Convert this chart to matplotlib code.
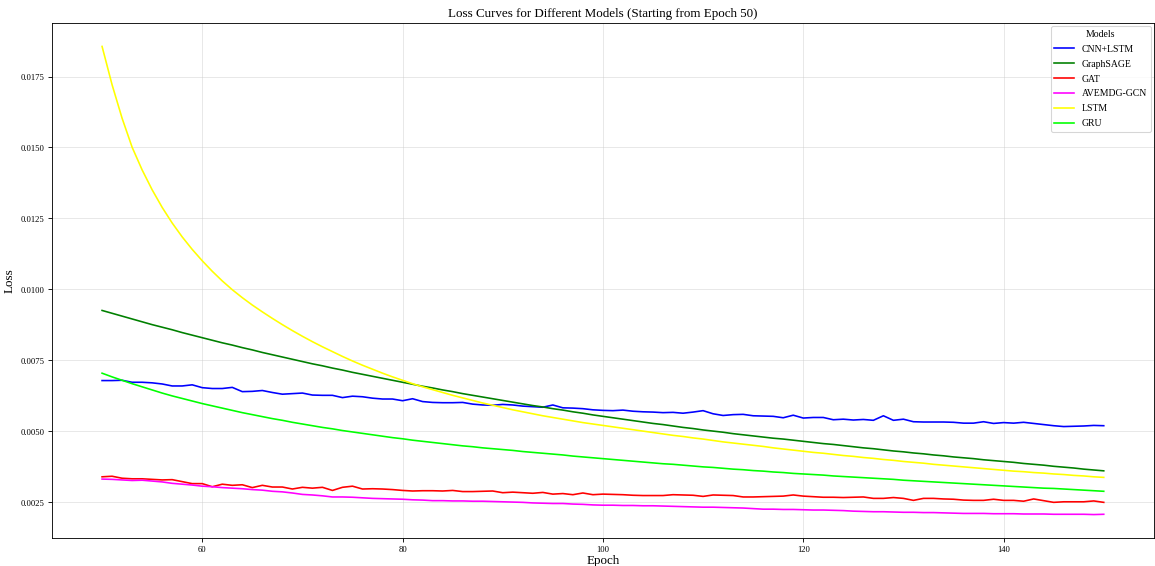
import matplotlib
matplotlib.use("Agg")
import matplotlib.pyplot as plt

plt.rcParams['font.family'] = ['Liberation Serif', 'DejaVu Serif']

# epochs 50..150
epochs = list(range(50, 151))

cnn_lstm = [
    0.00679, 0.00679, 0.00680, 0.00673, 0.00673, 0.00671, 0.00667, 0.00660, 0.00660, 0.00664,
    0.00654, 0.00651, 0.00651, 0.00655, 0.00640, 0.00641, 0.00644, 0.00637, 0.00631, 0.00633,
    0.00635, 0.00628, 0.00627, 0.00627, 0.00619, 0.00624, 0.00622, 0.00617, 0.00614, 0.00614,
    0.00608, 0.00615, 0.00605, 0.00602, 0.00601, 0.00601, 0.00602, 0.00596, 0.00593, 0.00592,
    0.00595, 0.00593, 0.00589, 0.00587, 0.00585, 0.00593, 0.00583, 0.00582, 0.00580, 0.00576,
    0.00574, 0.00573, 0.00575, 0.00571, 0.00569, 0.00568, 0.00566, 0.00567, 0.00564, 0.00568,
    0.00573, 0.00562, 0.00556, 0.00559, 0.00560, 0.00555, 0.00554, 0.00553, 0.00548, 0.00557,
    0.00547, 0.00549, 0.00549, 0.00541, 0.00543, 0.00540, 0.00542, 0.00539, 0.00555, 0.00539,
    0.00543, 0.00534, 0.00533, 0.00533, 0.00533, 0.00532, 0.00529, 0.00529, 0.00534, 0.00528,
    0.00531, 0.00529, 0.00532, 0.00528, 0.00524, 0.00520, 0.00517, 0.00518, 0.00519, 0.00521,
    0.00520,
]

graphsage = [
    0.00926, 0.00916, 0.00906, 0.00896, 0.00886, 0.00876, 0.00867, 0.00858, 0.00848, 0.00839,
    0.00830, 0.00821, 0.00812, 0.00804, 0.00795, 0.00787, 0.00778, 0.00770, 0.00762, 0.00754,
    0.00746, 0.00738, 0.00731, 0.00723, 0.00716, 0.00708, 0.00701, 0.00694, 0.00687, 0.00680,
    0.00673, 0.00666, 0.00659, 0.00653, 0.00646, 0.00640, 0.00633, 0.00627, 0.00621, 0.00615,
    0.00609, 0.00603, 0.00597, 0.00591, 0.00586, 0.00580, 0.00575, 0.00569, 0.00564, 0.00558,
    0.00553, 0.00548, 0.00543, 0.00538, 0.00533, 0.00528, 0.00524, 0.00519, 0.00514, 0.00510,
    0.00505, 0.00501, 0.00497, 0.00492, 0.00488, 0.00484, 0.00480, 0.00476, 0.00473, 0.00469,
    0.00465, 0.00461, 0.00457, 0.00454, 0.00450, 0.00446, 0.00442, 0.00439, 0.00435, 0.00431,
    0.00428, 0.00424, 0.00421, 0.00417, 0.00414, 0.00410, 0.00407, 0.00404, 0.00400, 0.00397,
    0.00394, 0.00391, 0.00387, 0.00384, 0.00381, 0.00377, 0.00374, 0.00371, 0.00367, 0.00364,
    0.00361,
]

gat = [
    0.00340, 0.00342, 0.00335, 0.00333, 0.00333, 0.00331, 0.00329, 0.00330, 0.00323, 0.00316,
    0.00316, 0.00305, 0.00314, 0.00310, 0.00312, 0.00302, 0.00310, 0.00304, 0.00304, 0.00297,
    0.00303, 0.00300, 0.00303, 0.00292, 0.00303, 0.00307, 0.00297, 0.00298, 0.00297, 0.00295,
    0.00292, 0.00290, 0.00291, 0.00291, 0.00290, 0.00292, 0.00288, 0.00288, 0.00289, 0.00290,
    0.00284, 0.00286, 0.00284, 0.00282, 0.00285, 0.00279, 0.00281, 0.00277, 0.00283, 0.00277,
    0.00279, 0.00278, 0.00277, 0.00275, 0.00274, 0.00274, 0.00274, 0.00277, 0.00276, 0.00275,
    0.00271, 0.00276, 0.00275, 0.00274, 0.00269, 0.00269, 0.00270, 0.00271, 0.00272, 0.00276,
    0.00272, 0.00270, 0.00268, 0.00268, 0.00267, 0.00268, 0.00269, 0.00264, 0.00264, 0.00267,
    0.00264, 0.00257, 0.00264, 0.00264, 0.00262, 0.00261, 0.00258, 0.00257, 0.00257, 0.00261,
    0.00257, 0.00257, 0.00254, 0.00262, 0.00256, 0.00250, 0.00252, 0.00252, 0.00252, 0.00255,
    0.00250,
]

avemdg_gcn = [
    0.00332, 0.00331, 0.00329, 0.00327, 0.00328, 0.00325, 0.00322, 0.00317, 0.00314, 0.00311,
    0.00307, 0.00305, 0.00302, 0.00300, 0.00298, 0.00295, 0.00293, 0.00289, 0.00287, 0.00283,
    0.00278, 0.00276, 0.00273, 0.00269, 0.00269, 0.00268, 0.00266, 0.00264, 0.00263, 0.00262,
    0.00261, 0.00259, 0.00258, 0.00256, 0.00256, 0.00255, 0.00255, 0.00254, 0.00254, 0.00253,
    0.00252, 0.00251, 0.00250, 0.00248, 0.00247, 0.00246, 0.00246, 0.00244, 0.00243, 0.00241,
    0.00240, 0.00240, 0.00239, 0.00239, 0.00238, 0.00238, 0.00237, 0.00236, 0.00235, 0.00234,
    0.00233, 0.00233, 0.00232, 0.00231, 0.00230, 0.00228, 0.00226, 0.00226, 0.00225, 0.00225,
    0.00224, 0.00223, 0.00223, 0.00222, 0.00221, 0.00219, 0.00218, 0.00217, 0.00217, 0.00216,
    0.00215, 0.00215, 0.00214, 0.00214, 0.00213, 0.00212, 0.00211, 0.00211, 0.00211, 0.00210,
    0.00210, 0.00210, 0.00209, 0.00209, 0.00209, 0.00208, 0.00208, 0.00208, 0.00208, 0.00207,
    0.00208,
]

lstm = [
    0.01856, 0.01721, 0.01603, 0.01501, 0.01421, 0.01351, 0.01289, 0.01234, 0.01185, 0.01141,
    0.01101, 0.01064, 0.01030, 0.00999, 0.00971, 0.00945, 0.00921, 0.00898, 0.00876, 0.00855,
    0.00835, 0.00816, 0.00798, 0.00781, 0.00764, 0.00748, 0.00733, 0.00719, 0.00705, 0.00692,
    0.00680, 0.00668, 0.00657, 0.00647, 0.00637, 0.00627, 0.00618, 0.00609, 0.00600, 0.00592,
    0.00584, 0.00576, 0.00569, 0.00562, 0.00555, 0.00549, 0.00543, 0.00537, 0.00531, 0.00526,
    0.00521, 0.00516, 0.00511, 0.00506, 0.00501, 0.00496, 0.00491, 0.00486, 0.00482, 0.00477,
    0.00473, 0.00468, 0.00463, 0.00459, 0.00455, 0.00451, 0.00447, 0.00442, 0.00438, 0.00434,
    0.00430, 0.00426, 0.00423, 0.00419, 0.00415, 0.00412, 0.00408, 0.00405, 0.00401, 0.00398,
    0.00394, 0.00391, 0.00388, 0.00384, 0.00381, 0.00378, 0.00375, 0.00372, 0.00369, 0.00366,
    0.00363, 0.00360, 0.00358, 0.00355, 0.00353, 0.00350, 0.00348, 0.00345, 0.00343, 0.00340,
    0.00338,
]

gru = [
    0.00705, 0.00692, 0.00680, 0.00668, 0.00657, 0.00646, 0.00635, 0.00625, 0.00616, 0.00607,
    0.00598, 0.00590, 0.00582, 0.00574, 0.00566, 0.00559, 0.00552, 0.00545, 0.00539, 0.00532,
    0.00526, 0.00520, 0.00514, 0.00509, 0.00503, 0.00498, 0.00493, 0.00488, 0.00483, 0.00478,
    0.00474, 0.00469, 0.00465, 0.00461, 0.00457, 0.00453, 0.00449, 0.00446, 0.00442, 0.00439,
    0.00436, 0.00433, 0.00429, 0.00426, 0.00423, 0.00420, 0.00417, 0.00413, 0.00410, 0.00407,
    0.00404, 0.00401, 0.00398, 0.00395, 0.00392, 0.00389, 0.00386, 0.00384, 0.00381, 0.00378,
    0.00375, 0.00373, 0.00370, 0.00367, 0.00365, 0.00362, 0.00360, 0.00357, 0.00355, 0.00352,
    0.00350, 0.00348, 0.00346, 0.00343, 0.00341, 0.00339, 0.00337, 0.00335, 0.00333, 0.00331,
    0.00328, 0.00326, 0.00324, 0.00322, 0.00320, 0.00318, 0.00316, 0.00314, 0.00312, 0.00310,
    0.00308, 0.00306, 0.00304, 0.00302, 0.00300, 0.00299, 0.00297, 0.00295, 0.00293, 0.00291,
    0.00289,
]

model_names = ["CNN+LSTM", "GraphSAGE", "GAT", "AVEMDG-GCN", "LSTM", "GRU"]
series = [cnn_lstm, graphsage, gat, avemdg_gcn, lstm, gru]
colors = ["blue", "green", "red", "magenta", "yellow", "lime"]

# drawn at 78 dpi so the default-ish font sizes come out as small as in the original
fig = plt.figure(figsize=(1155 / 78, 566.2 / 78), dpi=78)
ax = fig.add_axes([0.045, 0.0495, 0.954, 0.9095])

for name, vals, c in zip(model_names, series, colors):
    ax.plot(epochs, vals, color=c, linewidth=1.5, label=name)

ax.set_title("Loss Curves for Different Models (Starting from Epoch 50)", fontsize=12)
ax.set_xlabel("Epoch", fontsize=12, labelpad=1)
ax.set_ylabel("Loss", fontsize=12)
ax.tick_params(labelsize=8)
ax.grid(True, color="#cccccc", alpha=0.5, linewidth=0.8)
ax.legend(title="Models", loc="upper right", fontsize=9, title_fontsize=9,
          borderaxespad=0.3, labelspacing=0.6)

fig.savefig("out.png", dpi=78)
